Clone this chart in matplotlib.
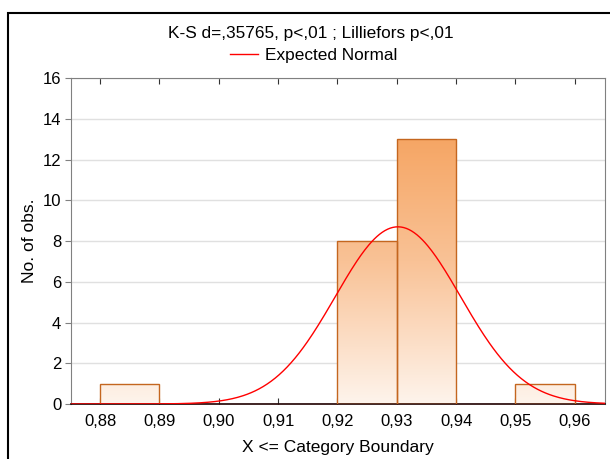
import numpy as np
import matplotlib.pyplot as plt
from matplotlib.colors import LinearSegmentedColormap
from matplotlib.patches import Rectangle

plt.rcParams['font.family'] = ['Liberation Sans', 'DejaVu Sans']

# histogram data (bin left edges, counts)
bin_left = [0.88, 0.92, 0.93, 0.95]
counts = [1, 8, 13, 1]
bin_width = 0.01
n_obs = 23
mean = 0.9302
sd = 0.01055

title = 'K-S d=,35765, p<,01 ; Lilliefors p<,01'
xticks = [0.88, 0.89, 0.90, 0.91, 0.92, 0.93, 0.94, 0.95, 0.96]
xtick_labels = ['0,88', '0,89', '0,90', '0,91', '0,92', '0,93', '0,94', '0,95', '0,96']
yticks = [0, 2, 4, 6, 8, 10, 12, 14, 16]

fig = plt.figure(figsize=(6.1, 4.59), dpi=100)
ax = fig.add_axes([0.1164, 0.1198, 0.8754, 0.7102])

# outer frame
fig.patches.append(Rectangle((0.0131, -0.05), 1.2, 1.0217, transform=fig.transFigure,
                             fill=False, edgecolor='black', linewidth=1.5))

cmap = LinearSegmentedColormap.from_list('org', ['#fef4ec', '#f9c296', '#f5a15c'])
grad = np.linspace(0, 1, 256).reshape(-1, 1)

for x0, c in zip(bin_left, counts):
    bar = ax.bar(x0, c, width=bin_width, align='edge', facecolor='none',
                 edgecolor='#c4661f', linewidth=1.0, zorder=3)[0]
    im = ax.imshow(grad[: int(256 * c / 14)], extent=[x0, x0 + bin_width, 0, c],
                   origin='lower', aspect='auto', cmap=cmap, vmin=0, vmax=1.0,
                   zorder=2)
    im.set_clip_path(bar)

xs = np.linspace(0.875, 0.965, 400)
ys = n_obs * bin_width / (sd * np.sqrt(2 * np.pi)) * np.exp(-0.5 * ((xs - mean) / sd) ** 2)
line, = ax.plot(xs, ys, color='red', linewidth=1.0, zorder=4)

ax.set_xlim(0.8751, 0.9651)
ax.set_ylim(0, 16)
ax.set_xticks(xticks)
ax.set_xticklabels(xtick_labels)
ax.set_yticks(yticks)
ax.yaxis.grid(True, color='#e0e0e0', linewidth=1.0, zorder=0)
ax.set_axisbelow(True)
ax.tick_params(axis='x', direction='in', top=True, length=4, labelsize=12, pad=7, color='#333333')
ax.tick_params(axis='y', direction='out', length=4, labelsize=12, pad=3, color='#808080')
for s in ['left', 'right', 'top']:
    ax.spines[s].set_color('#808080')
ax.spines['bottom'].set_color('#200000')
ax.spines['bottom'].set_linewidth(1.2)

ax.set_xlabel('X <= Category Boundary', fontsize=12.5, labelpad=8)
ax.set_ylabel('No. of obs.', fontsize=12.5, labelpad=4)

fig.text(0.51, 0.926, title, ha='center', va='center', fontsize=12.4)
fig.legend([line], ['Expected Normal'], loc='center', bbox_to_anchor=(0.514, 0.880),
           frameon=False, fontsize=12.4, handlelength=1.63, handletextpad=0.4,
           borderpad=0, borderaxespad=0)

fig.savefig('out.png', dpi=100)
